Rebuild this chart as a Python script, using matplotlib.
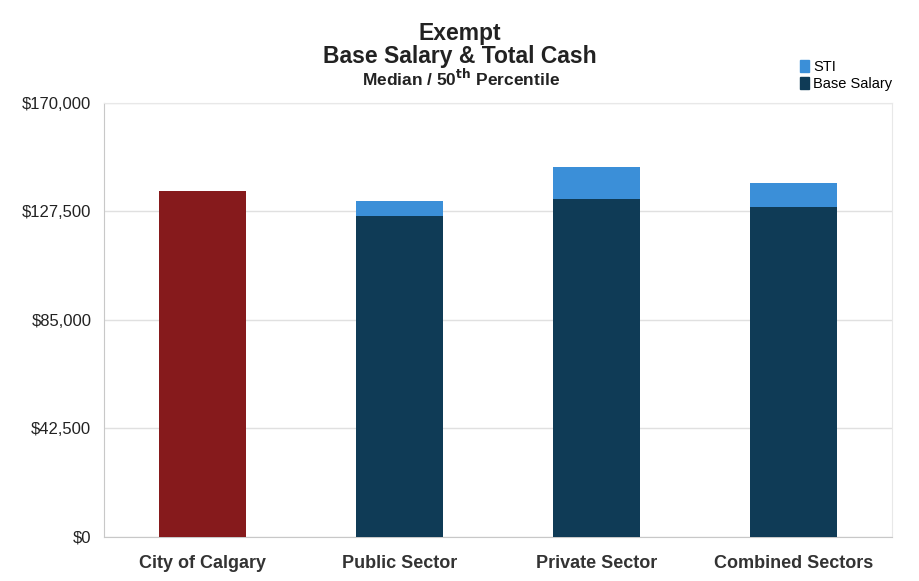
import matplotlib.pyplot as plt
from matplotlib.patches import Patch
from matplotlib.ticker import FuncFormatter

plt.rcParams['font.family'] = ['Liberation Sans', 'DejaVu Sans']

# Data
categories = ['City of Calgary', 'Public Sector', 'Private Sector', 'Combined Sectors']
base_salary = [135500, 125700, 132300, 129200]
sti = [0, 5900, 12500, 9400]
bar_colors = ['#861a1c', '#0f3b56', '#0f3b56', '#0f3b56']
sti_color = '#3b8fd8'
yticks = [0, 42500, 85000, 127500, 170000]

fig = plt.figure(figsize=(9.19, 5.81), dpi=100)
ax = fig.add_axes([0.113, 0.076, 0.858, 0.747])

x = range(len(categories))
ax.bar(x, base_salary, width=0.44, color=bar_colors, zorder=3)
ax.bar(x, sti, width=0.44, bottom=base_salary, color=sti_color, zorder=3)

ax.set_xlim(-0.5, 3.5)
ax.set_ylim(0, 170000)
ax.set_yticks(yticks)
ax.yaxis.set_major_formatter(FuncFormatter(lambda v, p: '$0' if v == 0 else f'${v:,.0f}'))
ax.set_xticks(list(x))
ax.set_xticklabels(categories)
ax.tick_params(axis='y', length=0, labelsize=12, colors='#222222', pad=9)
ax.tick_params(axis='x', length=0, labelsize=13, colors='#333333', pad=13)
for lbl in ax.get_xticklabels():
    lbl.set_fontweight('bold')

ax.grid(axis='y', color='#e0e0e0', linewidth=1, zorder=0)
for side in ['top', 'right']:
    ax.spines[side].set_color('#e8e8e8')
for side in ['left', 'bottom']:
    ax.spines[side].set_color('#c8c8c8')

fig.text(0.5, 0.943, 'Exempt', ha='center', va='center', fontsize=16.5,
         fontweight='bold', color='#222222')
fig.text(0.5, 0.902, 'Base Salary & Total Cash', ha='center', va='center', fontsize=16.5,
         fontweight='bold', color='#222222')
fig.text(0.502, 0.866, 'Median / 50$^{\\mathbf{th}}$ Percentile', ha='center', va='center',
         fontsize=12.5, fontweight='bold', color='#222222')

handles = [Patch(color=sti_color, label='STI'), Patch(color='#0f3b56', label='Base Salary')]
fig.legend(handles=handles, loc='upper left', bbox_to_anchor=(0.856, 0.92), frameon=False,
           fontsize=10.5, handlelength=0.6, handleheight=0.9, handletextpad=0.3, labelspacing=0.2)

fig.savefig('out.png', dpi=100)
